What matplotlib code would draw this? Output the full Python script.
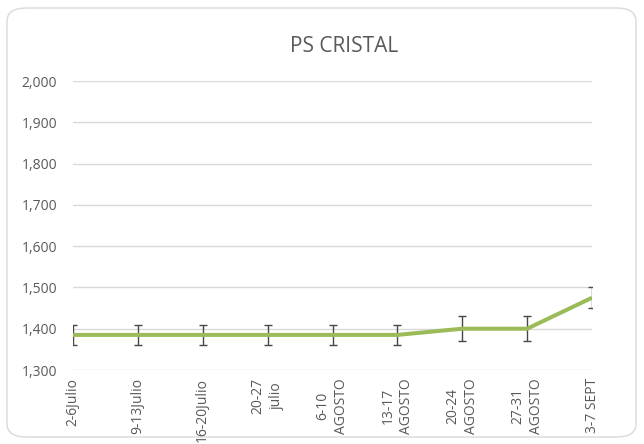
import matplotlib
matplotlib.use("Agg")
import matplotlib.pyplot as plt
from matplotlib.patches import FancyBboxPatch
from matplotlib.ticker import FuncFormatter

categories = ["2-6Julio", "9-13Julio", "16-20Julio", "20-27\njulio", "6-10\nAGOSTO",
              "13-17\nAGOSTO", "20-24\nAGOSTO", "27-31\nAGOSTO", "3-7 SEPT"]
values = [1385, 1385, 1385, 1385, 1385, 1385, 1400, 1400, 1475]
errors = [25, 25, 25, 25, 25, 25, 30, 30, 25]
y_ticks = [1300, 1400, 1500, 1600, 1700, 1800, 1900, 2000]
title = "PS CRISTAL"

plt.rcParams['font.family'] = ['Open Sans', 'DejaVu Sans']
txt = '#595959'

fig = plt.figure(figsize=(6.44, 4.44), dpi=100)
fig.patch.set_facecolor('white')
border = FancyBboxPatch((7/644, 7/444), 629/644, 429/444,
                        boxstyle="round,pad=0,rounding_size=0.03",
                        transform=fig.transFigure, facecolor='none',
                        edgecolor='#D9D9D9', linewidth=1.0, zorder=-10)
fig.patches.append(border)

ax = fig.add_axes([73/644, 1 - 370/444, (592 - 73)/644, (370 - 81)/444], zorder=1)
ax.set_facecolor('none')
x = list(range(len(categories)))
ax.errorbar(x, values, yerr=errors, fmt='none', ecolor='#474747',
            elinewidth=1.0, capsize=2.7, capthick=1.0, zorder=3, clip_on=True)
ax.plot(x, values, color='#9BBB59', linewidth=2.9, solid_capstyle='butt', zorder=4)

ax.set_xlim(0, len(categories) - 1)
ax.set_ylim(y_ticks[0], y_ticks[-1])
ax.set_yticks(y_ticks)
ax.yaxis.set_major_formatter(FuncFormatter(lambda v, p: f"{int(v):,}"))
ax.set_xticks(x)
ax.set_xticklabels(categories, rotation=90, ha='center', va='top',
                   multialignment='center', linespacing=1.35)
ax.grid(axis='y', color='#D9D9D9', linewidth=1.0)
ax.set_axisbelow(True)
for s in ax.spines.values():
    s.set_visible(False)
ax.tick_params(axis='both', length=0, labelsize=10, colors=txt)
ax.tick_params(axis='y', pad=11.5)
ax.tick_params(axis='x', pad=5.8)

fig.text(344/644, 1 - 46/444, title, ha='center', va='center', fontsize=15, color=txt)

fig.savefig("out.png", dpi=100)
